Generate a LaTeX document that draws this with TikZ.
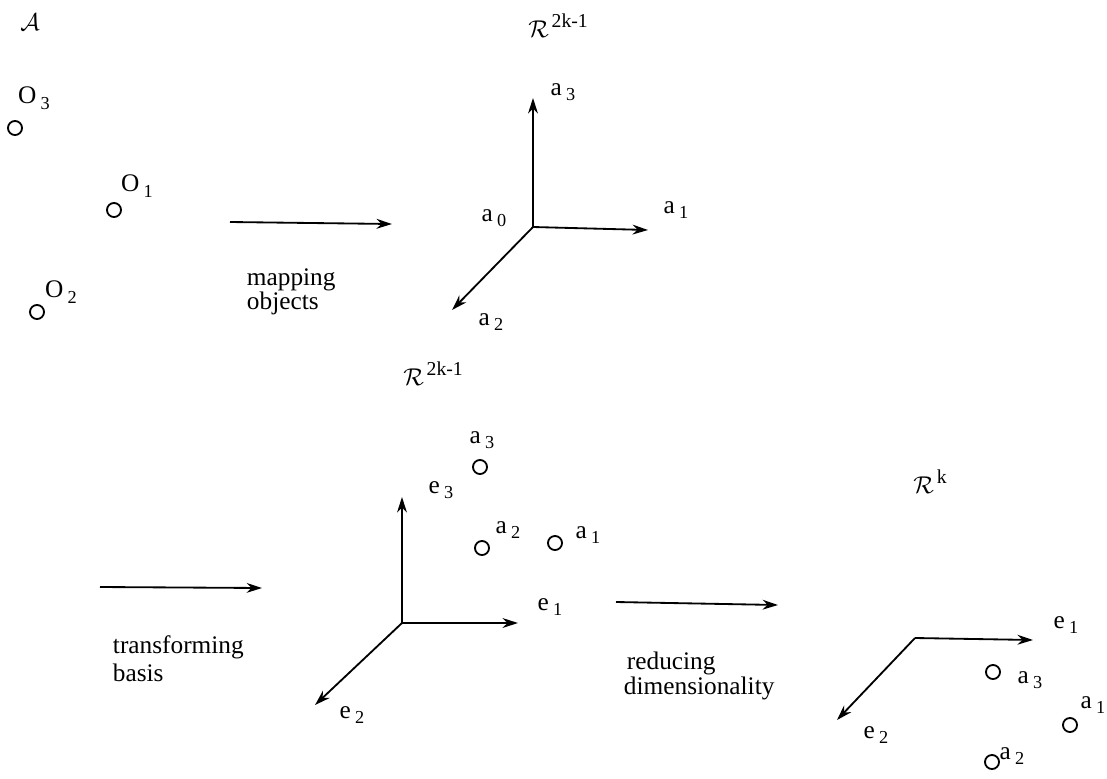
\documentclass[tikz,border=0pt]{standalone}
\usepackage{fontspec}
\setmainfont{Liberation Serif}
\usepackage{amsmath,amssymb}
\usetikzlibrary{arrows.meta}
\newcommand{\sublab}[2]{#1\kern3pt\raisebox{-4pt}{\fontsize{13}{13}\selectfont #2}}
\newcommand{\suplab}[2]{$\mathcal{#1}$\kern2pt\raisebox{7pt}{\fontsize{14}{14}\selectfont #2}}

\begin{document}
\begin{tikzpicture}[x=0.025cm,y=-0.025cm,
  every node/.style={font=\fontsize{18}{21}\selectfont},
  pt/.style={draw,circle,line width=1.3pt,minimum size=10pt,inner sep=0pt},
  ax/.style={line width=1.3pt,-{Stealth[length=11pt,width=7pt]}}]
\useasboundingbox (0,0) rectangle (1107,778);

\node (A) at (30,22) {$\mathcal{A}$};
\node (l3) at (34,98) {\sublab{O}{3}};
\node[pt] (o3) at (15,128) {};
\node (l1) at (137,186) {\sublab{O}{1}};
\node[pt] (o1) at (114,210) {};
\node (l2) at (61,292) {\sublab{O}{2}};
\node[pt] (o2) at (37,312) {};

\coordinate (m0) at (230,222);
\coordinate (m1) at (392,224);
\draw[ax] (m0) -- (m1);
\node[anchor=west] (map) at (242,280) {mapping};
\node[anchor=west] (obj) at (242,303) {objects};

\node (R1) at (558,26) {\suplab{R}{2k-1}};
\coordinate (o) at (533,227);
\coordinate (t3) at (533,98);
\coordinate (t1) at (648,230);
\coordinate (t2) at (452,310);
\draw[ax] (o) -- (t3);
\draw[ax] (o) -- (t1);
\draw[ax] (o) -- (t2);
\node (a3) at (563,92) {\sublab{a}{3}};
\node (a0) at (494,218) {\sublab{a}{0}};
\node (a1) at (676,210) {\sublab{a}{1}};
\node (a2) at (491,322) {\sublab{a}{2}};

\coordinate (b0) at (100,587);
\coordinate (b1) at (262,588);
\draw[ax] (b0) -- (b1);
\node[anchor=west] (tra) at (108,647) {transforming};
\node[anchor=west] (bas) at (108,673) {basis};

\node (R2) at (433,374) {\suplab{R}{2k-1}};
\coordinate (p) at (402,623);
\coordinate (e3) at (402,497);
\coordinate (e1) at (518,623);
\coordinate (e2) at (315,705);
\draw[ax] (p) -- (e3);
\draw[ax] (p) -- (e1);
\draw[ax] (p) -- (e2);
\node (le3) at (441,490) {\sublab{e}{3}};
\node (le1) at (550,607) {\sublab{e}{1}};
\node (le2) at (352,715) {\sublab{e}{2}};
\node (ma3) at (482,440) {\sublab{a}{3}};
\node[pt] (pa3) at (480,467) {};
\node (ma2) at (508,530) {\sublab{a}{2}};
\node[pt] (pa2) at (482,548) {};
\node (ma1) at (588,535) {\sublab{a}{1}};
\node[pt] (pa1) at (555,543) {};

\coordinate (r0) at (616,602);
\coordinate (r1) at (778,605);
\draw[ax] (r0) -- (r1);
\node[anchor=west] (red) at (622,663) {reducing};
\node[anchor=west] (dim) at (619,688) {dimensionality};

\node (R3) at (930,482) {\suplab{R}{k}};
\coordinate (q) at (915,638);
\coordinate (f1) at (1033,640);
\coordinate (f2) at (837,720);
\draw[ax] (q) -- (f1);
\draw[ax] (q) -- (f2);
\node (lf1) at (1066,625) {\sublab{e}{1}};
\node (lf2) at (876,735) {\sublab{e}{2}};
\node[pt] (qa3) at (993,672) {};
\node (na3) at (1030,680) {\sublab{a}{3}};
\node[pt] (qa1) at (1070,725) {};
\node[anchor=east,inner sep=1pt] (na1) at (1107,705) {\sublab{a}{1}};
\node[pt] (qa2) at (992,762) {};
\node (na2) at (1012,756) {\sublab{a}{2}};
\end{tikzpicture}
\end{document}
